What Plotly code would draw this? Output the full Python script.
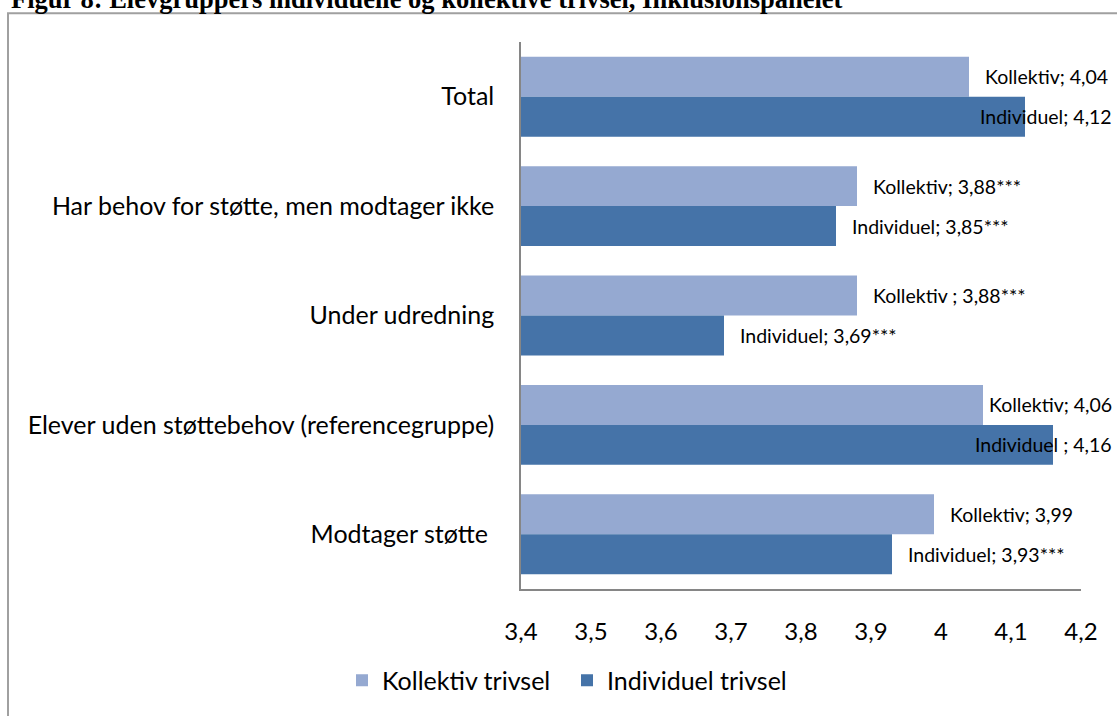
import plotly.graph_objects as go

# data
categories = [
    "Total",
    "Har behov for støtte, men modtager ikke",
    "Under udredning",
    "Elever uden støttebehov (referencegruppe)",
    "Modtager støtte ",
]
kollektiv = [4.04, 3.88, 3.88, 4.06, 3.99]
individuel = [4.12, 3.85, 3.69, 4.16, 3.93]
kollektiv_prefix = ["Kollektiv; ", "Kollektiv; ", "Kollektiv ; ", "Kollektiv; ", "Kollektiv; "]
individuel_prefix = ["Individuel; ", "Individuel; ", "Individuel; ", "Individuel ; ", "Individuel; "]
kollektiv_sig = ["", "***", "***", "", ""]
individuel_sig = ["", "***", "***", "", "***"]
x_ticks = [3.4, 3.5, 3.6, 3.7, 3.8, 3.9, 4.0, 4.1, 4.2]

W, H = 1117, 716
ML, MR, MT, MB = 521, 36, 42, 124
PW, PH = W - ML - MR, H - MT - MB

FONT = "Lato"
LIGHT = "#95A9D1"
DARK = "#4573A8"
AXIS = "#868686"


def px_x(px):
    return (px - ML) / PW


def px_y(py):
    return (H - MB - py) / PH


def fmt(v):
    return f"{v:.2f}".replace(".", ",")


def tick_text(v):
    s = f"{v:.1f}".replace(".", ",")
    return s[:-2] if s.endswith(",0") else s


fig = go.Figure()
fig.add_trace(go.Bar(y=categories, x=kollektiv, orientation="h", name="Kollektiv trivsel",
                     marker=dict(color=LIGHT, line=dict(width=0)), hoverinfo="x+y"))
fig.add_trace(go.Bar(y=categories, x=individuel, orientation="h", name="Individuel trivsel",
                     marker=dict(color=DARK, line=dict(width=0)), hoverinfo="x+y"))

# data labels, pushed back inside the chart area when they would overflow (like Excel)
annotations = []
for series, prefix, sig, dy in [(kollektiv, kollektiv_prefix, kollektiv_sig, 20),
                                (individuel, individuel_prefix, individuel_sig, -20)]:
    for cat, v, p, s in zip(categories, series, prefix, sig):
        text = p + fmt(v) + s
        if v >= 4.05:
            ann = dict(x=4.2, xanchor="right", xshift=33)
        else:
            ann = dict(x=v, xanchor="left", xshift=14)
        ann.update(y=cat, yshift=dy, xref="x", yref="y", text=text, showarrow=False,
                   yanchor="middle", font=dict(family=FONT, size=19.5, color="#000000"))
        annotations.append(ann)

# cut-off figure caption at the very top
annotations.append(dict(
    x=px_x(9), y=px_y(-1), xref="paper", yref="paper", xanchor="left", yanchor="middle",
    text="<b>Figur 8: Elevgruppers individuelle og kollektive trivsel, Inklusionspanelet</b>",
    showarrow=False, font=dict(family="Liberation Serif", size=26.5, color="#000000")))

fig.update_layout(
    width=W, height=H,
    margin=dict(l=ML, r=MR, t=MT, b=MB),
    paper_bgcolor="white", plot_bgcolor="white",
    barmode="group", bargap=0.27, bargroupgap=0,
    font=dict(family=FONT, size=25, color="#000000"),
    showlegend=True,
    legend=dict(orientation="h", x=px_x(567), y=px_y(684), xanchor="center", yanchor="middle",
                font=dict(family=FONT, size=25), traceorder="normal", entrywidth=180),
    annotations=annotations,
    shapes=[dict(type="rect", xref="paper", yref="paper",
                 x0=px_x(8), x1=px_x(1140), y0=px_y(13), y1=px_y(740),
                 line=dict(color="#A0A0A0", width=2), layer="below")],
)
fig.update_xaxes(range=[3.4, 4.2], tickvals=x_ticks, ticktext=[tick_text(v) for v in x_ticks],
                 showgrid=False, zeroline=False, showline=True, linecolor=AXIS, linewidth=1.5,
                 ticks="", ticklabelstandoff=20, tickfont=dict(family=FONT, size=24))
fig.update_yaxes(autorange="reversed", showgrid=False, showline=True, linecolor=AXIS, linewidth=1.5,
                 ticks="", ticklabelstandoff=20, tickfont=dict(family=FONT, size=25))

# drop the browser's default body margin so the figure sits at the page corner
fig.write_html("out.html", config={"displayModeBar": False},
               post_script="document.body.style.margin = '0';")
